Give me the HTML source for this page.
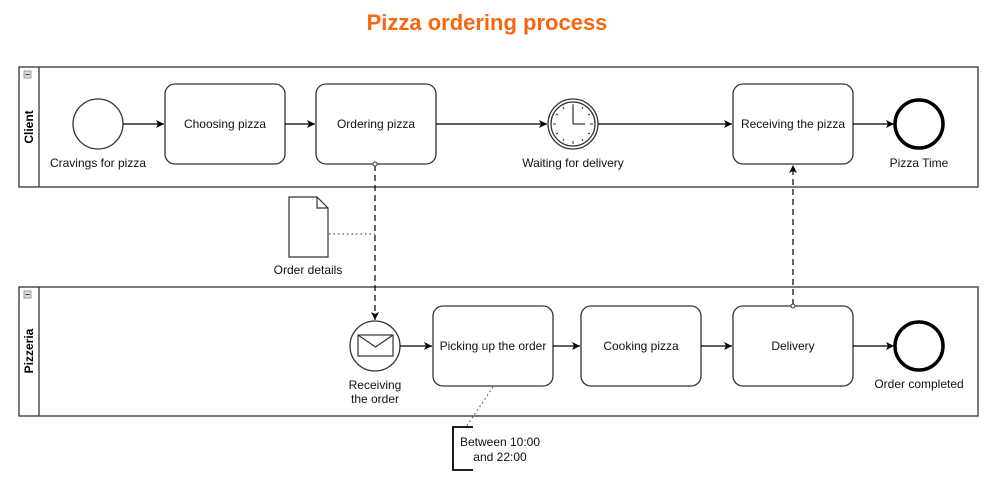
<!DOCTYPE html>
<html><head><style>
body{margin:0;background:#fff;}
svg text{font-family:"Liberation Sans",Arial,sans-serif;}
</style></head><body>
<svg width="1000" height="481" viewBox="0 0 1000 481" xmlns="http://www.w3.org/2000/svg">
<defs>
<marker id="a" markerWidth="10" markerHeight="10" refX="8" refY="5" orient="auto" markerUnits="userSpaceOnUse"><path d="M0,1 L8,5 L0,9 L2,5 Z" fill="#000"/></marker>
</defs>
<text x="487" y="30" text-anchor="middle" font-size="22" font-weight="bold" fill="#f5670f">Pizza ordering process</text>
<g stroke="#333" stroke-width="1.3" fill="#fff">
<rect x="19" y="67" width="959" height="120"/>
<line x1="39" y1="67" x2="39" y2="187"/>
<rect x="19" y="287" width="959" height="129"/>
<line x1="39" y1="287" x2="39" y2="416"/>
</g>
<g fill="#ddd" stroke="#888" stroke-width="0.8"><rect x="24" y="71" width="7" height="7"/><rect x="24" y="291" width="7" height="7"/></g>
<g stroke="#333" stroke-width="1"><line x1="25.5" y1="74.5" x2="29.5" y2="74.5"/><line x1="25.5" y1="294.5" x2="29.5" y2="294.5"/></g>
<text transform="translate(33,127) rotate(-90)" text-anchor="middle" font-size="12" font-weight="bold">Client</text>
<text transform="translate(33,351) rotate(-90)" text-anchor="middle" font-size="12" font-weight="bold">Pizzeria</text>
<g stroke="#333" stroke-width="1.3" fill="#fff">
<circle cx="98" cy="124" r="25"/>
<rect x="165" y="84" width="120" height="80" rx="10"/>
<rect x="316" y="84" width="120" height="80" rx="10"/>
<rect x="733" y="84" width="120" height="80" rx="10"/>
<rect x="433" y="306" width="120" height="80" rx="10"/>
<rect x="581" y="306" width="120" height="80" rx="10"/>
<rect x="733" y="306" width="120" height="80" rx="10"/>
<circle cx="375" cy="346" r="25"/>
<circle cx="573" cy="124" r="25"/><circle cx="573" cy="124" r="22"/>
</g>
<g stroke="#000" stroke-width="3.5" fill="#fff"><circle cx="919" cy="124" r="24"/><circle cx="919" cy="346" r="24"/></g>
<g stroke="#333" stroke-width="1.2" fill="none">
<line x1="573" y1="106" x2="573" y2="124"/><line x1="573" y1="124" x2="585" y2="124"/>
<rect x="358" y="335" width="35" height="21" fill="#fff"/><polyline points="358,335 375.5,347 393,335"/>
<path d="M289,197 H317 L328,208 V257 H289 Z" fill="#fff"/><polyline points="317,197 317,208 328,208"/>
<polyline points="473,427 453,427 453,470 473,470" stroke="#000" stroke-width="1.8"/>
</g>
<g stroke="#333" stroke-width="1">
<line x1="573" y1="104" x2="573" y2="107"/><line x1="573" y1="141" x2="573" y2="144"/><line x1="553" y1="124" x2="556" y2="124"/><line x1="590" y1="124" x2="593" y2="124"/>
<line x1="583" y1="107" x2="582" y2="109"/><line x1="590" y1="114" x2="588" y2="115"/><line x1="590" y1="134" x2="588" y2="133"/><line x1="583" y1="141" x2="582" y2="139"/>
<line x1="563" y1="107" x2="564" y2="109"/><line x1="556" y1="114" x2="558" y2="115"/><line x1="556" y1="134" x2="558" y2="133"/><line x1="563" y1="141" x2="564" y2="139"/>
</g>
<g stroke="#000" stroke-width="1.2" fill="none" marker-end="url(#a)">
<line x1="123" y1="124" x2="164" y2="124"/>
<line x1="285" y1="124" x2="315" y2="124"/>
<line x1="436" y1="124" x2="547" y2="124"/>
<line x1="598" y1="124" x2="732" y2="124"/>
<line x1="853" y1="124" x2="894" y2="124"/>
<line x1="400" y1="346" x2="432" y2="346"/>
<line x1="553" y1="346" x2="580" y2="346"/>
<line x1="701" y1="346" x2="732" y2="346"/>
<line x1="853" y1="346" x2="894" y2="346"/>
<line x1="375" y1="165" x2="375" y2="320" stroke-dasharray="6,4"/>
<line x1="793" y1="305" x2="793" y2="165" stroke-dasharray="6,4"/>
</g>
<g fill="#fff" stroke="#333"><circle cx="375" cy="164" r="2"/><circle cx="793" cy="306" r="2"/></g>
<g stroke="#555" stroke-width="1.2" stroke-dasharray="1.5,3" fill="none">
<line x1="329" y1="234" x2="375" y2="234"/>
<line x1="493" y1="387" x2="466" y2="427"/>
</g>
<g font-size="12" fill="#111" text-anchor="middle">
<text x="225" y="128">Choosing pizza</text>
<text x="376" y="128">Ordering pizza</text>
<text x="793" y="128">Receiving the pizza</text>
<text x="493" y="350">Picking up the order</text>
<text x="641" y="350">Cooking pizza</text>
<text x="793" y="350">Delivery</text>
<text x="98" y="167">Cravings for pizza</text>
<text x="573" y="167">Waiting for delivery</text>
<text x="919" y="167">Pizza Time</text>
<text x="308" y="274">Order details</text>
<text x="375" y="389">Receiving</text>
<text x="375" y="403">the order</text>
<text x="919" y="388">Order completed</text>
<text x="500" y="446">Between 10:00</text>
<text x="500" y="461">and 22:00</text>
</g>
</svg>
</body></html>
